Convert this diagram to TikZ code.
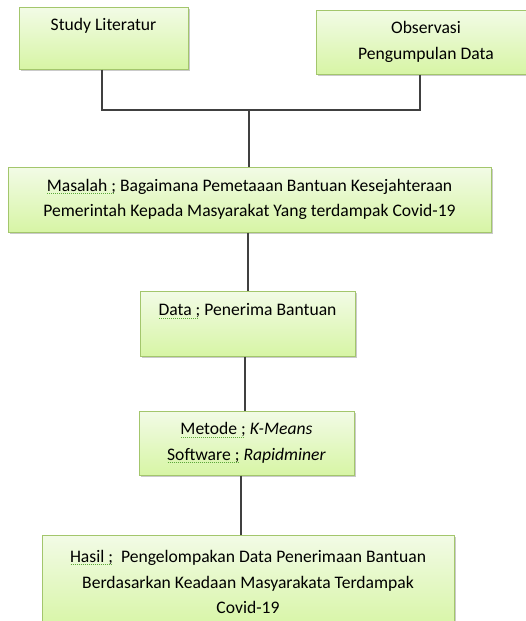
\documentclass[tikz,border=0pt]{standalone}
\usepackage{fontspec}
\setmainfont{Carlito}
\usepackage{xcolor}
\usetikzlibrary{shadows}

\definecolor{boxtop}{HTML}{F2FBE6}
\definecolor{boxbottom}{HTML}{D7F5A5}
\definecolor{boxline}{HTML}{A3C66C}
\definecolor{spellgreen}{HTML}{5DAA3A}
% dotted green underline under a word
\newcommand{\spell}[1]{\setbox0=\hbox{#1}\rlap{\usebox0}\raisebox{-2.5pt}{\color{spellgreen}\leaders\hbox to 2pt{\hss\rule{1pt}{0.8pt}\hss}\hskip\wd0}}

\begin{document}
\begin{tikzpicture}[
  x=1pt, y=1pt,
  box/.style={draw=boxline, line width=1pt, top color=boxtop, bottom color=boxbottom,
    drop shadow={shadow xshift=1.5pt, shadow yshift=-1.5pt, fill=black!35, opacity=0.6},
    align=center, inner sep=0pt, font=\fontsize{17.6}{25.5}\selectfont},
  link/.style={draw=black!75, line width=1.3pt}
]
  \useasboundingbox (0,0) rectangle (526,-621);

  % ===== sources =====
  \node[box, minimum width=169, minimum height=62] (study) at (103.5,-38) {\strut Study Literatur\\ \strut};
  \node[box, minimum width=220, minimum height=64] (obs) at (426,-42) {Observasi\\Pengumpulan Data};

  % ===== main chain =====
  \node[box, minimum width=483, minimum height=65] (masalah) at (249.5,-199.5)
    {\spell{Masalah ;} Bagaimana Pemetaaan Bantuan Kesejahteraan\\Pemerintah Kepada Masyarakat Yang terdampak Covid-19};
  \node[box, minimum width=215, minimum height=65] (data) at (247.5,-323.5)
    {\strut\spell{Data ;} Penerima Bantuan\\ \strut};
  \node[box, minimum width=215, minimum height=64] (metode) at (246.5,-443)
    {\spell{Metode ;} \textit{K-Means}\\\spell{Software ;} \textit{Rapidminer}};
  \node[box, minimum width=412, minimum height=94] (hasil) at (248,-582)
    {\spell{Hasil ;}\ \ Pengelompakan Data Penerimaan Bantuan\\Berdasarkan Keadaan Masyarakata Terdampak\\Covid-19};

  % junction of the two sources
  \coordinate (join) at (249,-110);

  \draw[link] (study.south -| 102,0) |- (join);
  \draw[link] (obs.south -| 420,0) |- (join);
  \draw[link] (join) -- (masalah.north -| join);
  \draw[link] (masalah.south -| 248,0) -- (data.north -| 248,0);
  \draw[link] (data.south -| 245,0) -- (metode.north -| 245,0);
  \draw[link] (metode.south -| 241,0) -- (hasil.north -| 241,0);
\end{tikzpicture}
\end{document}
